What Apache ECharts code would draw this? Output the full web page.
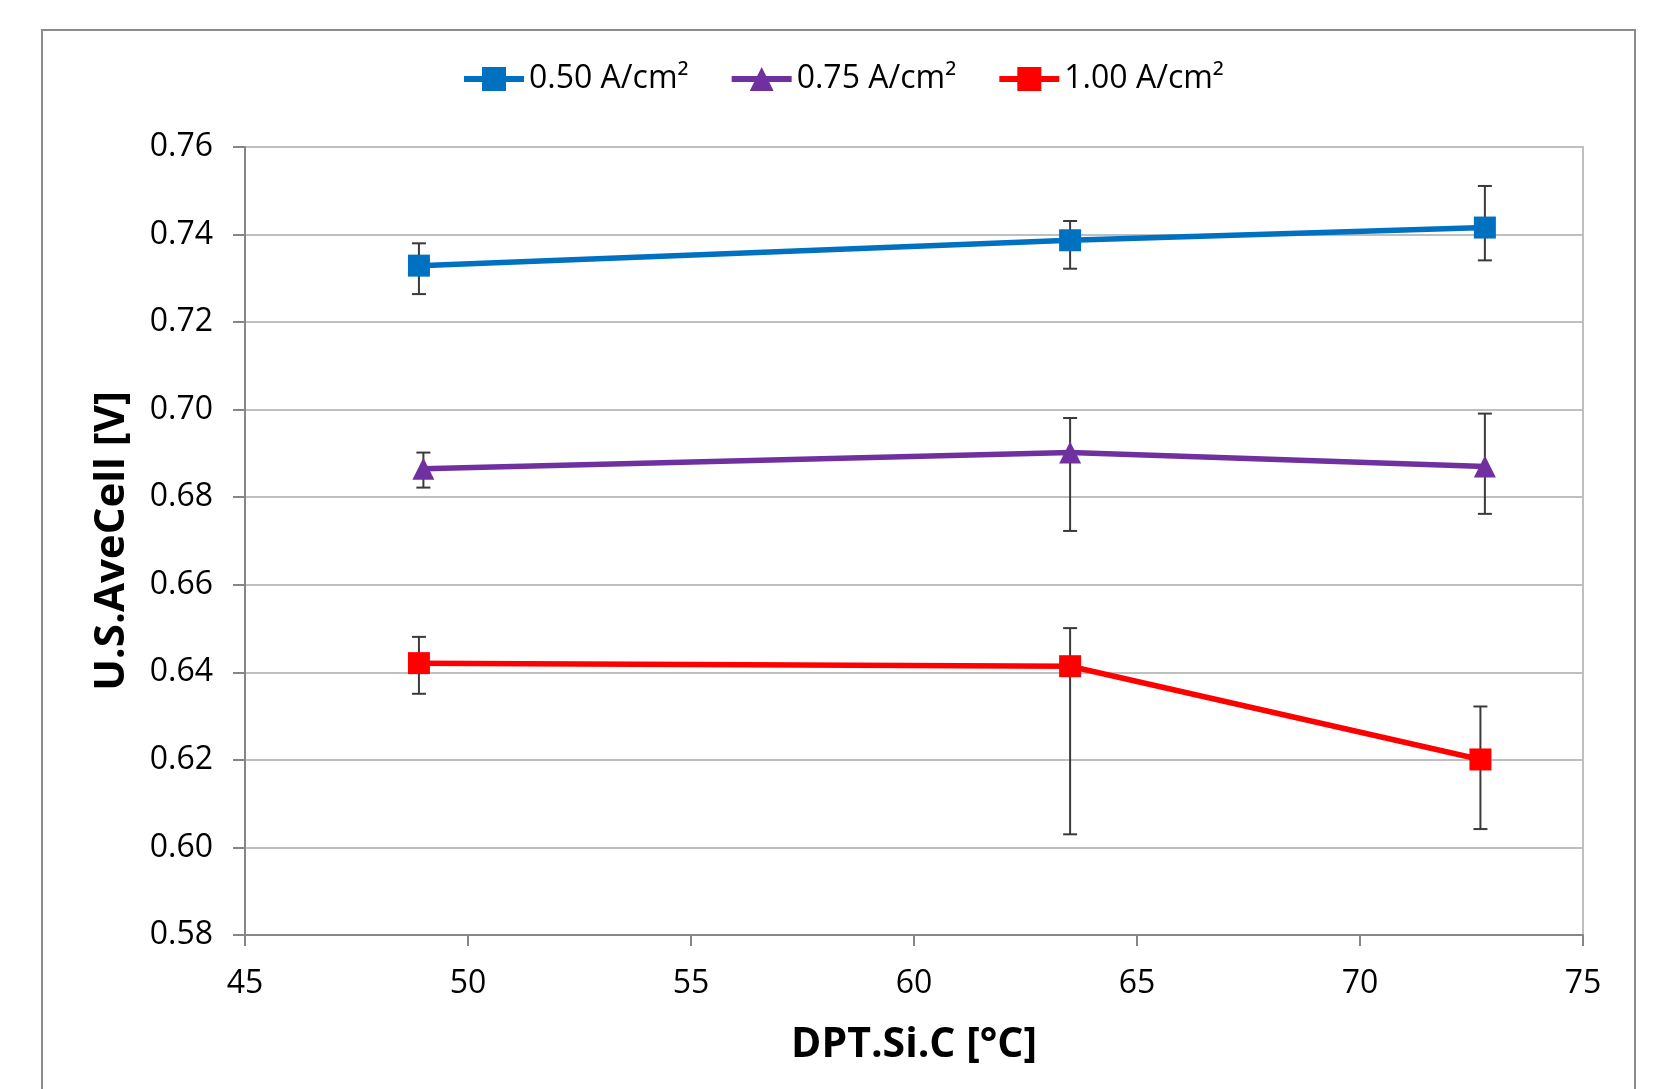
<!DOCTYPE html>
<html>
<head>
<meta charset="utf-8">
<script src="https://cdn.jsdelivr.net/npm/echarts@6/dist/echarts.min.js"></script>
<style>
html,body{margin:0;padding:0;background:#fff;}
#chart{width:1658px;height:1089px;}
</style>
</head>
<body>
<div id="chart"></div>
<script>
// ---- data ----
const seriesNames = ['0.50 A/cm²', '0.75 A/cm²', '1.00 A/cm²'];
const temps050 = [48.9, 63.5, 72.8];
const temps075 = [49.0, 63.5, 72.8];
const temps100 = [48.9, 63.5, 72.7];
const volt050 = [0.7329, 0.7387, 0.7416];
const volt075 = [0.6865, 0.6902, 0.6870];
const volt100 = [0.6421, 0.6414, 0.6201];
const errLow050 = [0.7264, 0.7322, 0.7341];
const errHigh050 = [0.7380, 0.7431, 0.7511];
const errLow075 = [0.6822, 0.6723, 0.6762];
const errHigh075 = [0.6902, 0.6981, 0.6991];
const errLow100 = [0.6351, 0.6030, 0.6042];
const errHigh100 = [0.6481, 0.6501, 0.6322];
const colors = ['#0070C0', '#7030A0', '#FF0000'];

const FONT = '"Open Sans", "Liberation Sans", sans-serif';

function pts(xs, ys) { return xs.map((x, i) => [x, ys[i]]); }
function errs(xs, lo, hi) { return xs.map((x, i) => [x, lo[i], hi[i]]); }

function errRender(params, api) {
  const x = api.value(0), lo = api.value(1), hi = api.value(2);
  const a = api.coord([x, hi]), b = api.coord([x, lo]);
  const w = 7;
  const style = { stroke: '#3a3a3a', lineWidth: 2 };
  return {
    type: 'group',
    children: [
      { type: 'line', shape: { x1: a[0], y1: a[1], x2: b[0], y2: b[1] }, style: style },
      { type: 'line', shape: { x1: a[0] - w, y1: a[1], x2: a[0] + w, y2: a[1] }, style: style },
      { type: 'line', shape: { x1: b[0] - w, y1: b[1], x2: b[0] + w, y2: b[1] }, style: style }
    ]
  };
}

function lineSeries(name, data, color, symbol) {
  return {
    name: name, type: 'line', data: data, z: 5,
    symbol: symbol, symbolSize: 22,
    lineStyle: { color: color, width: 5.5 },
    itemStyle: { color: color },
    emphasis: { disabled: true }
  };
}
function errSeries(data) {
  return {
    type: 'custom', data: data, z: 3, renderItem: errRender, silent: true
  };
}

const chart = echarts.init(document.getElementById('chart'), null, { renderer: 'canvas' });
chart.setOption({
  animation: false,
  backgroundColor: '#fff',
  graphic: [{
    type: 'rect', silent: true, z: -10,
    shape: { x: 42, y: 30, width: 1593, height: 1100 },
    style: { fill: 'none', stroke: '#8c8c8c', lineWidth: 2 }
  }],
  legend: {
    data: seriesNames,
    left: 456, top: 58,
    itemWidth: 60, itemHeight: 30, itemGap: 40,
    lineStyle: { width: 6 },
    textStyle: { fontFamily: FONT, fontSize: 32, color: '#000', padding: [0, 0, 0, 0] }
  },
  grid: {
    left: 245, right: 75, top: 147, bottom: 154,
    show: true, borderColor: '#bfbfbf', borderWidth: 2, backgroundColor: 'transparent'
  },
  xAxis: {
    type: 'value', min: 45, max: 75, interval: 5,
    name: 'DPT.Si.C [°C]', nameLocation: 'middle', nameGap: 90,
    nameTextStyle: { fontFamily: FONT, fontSize: 41, fontWeight: 'bold', color: '#000' },
    axisLine: { show: true, onZero: false, lineStyle: { color: '#868686', width: 2 } },
    axisTick: { show: true, inside: false, length: 11, lineStyle: { color: '#868686', width: 2 } },
    axisLabel: { fontFamily: FONT, fontSize: 32, color: '#000', margin: 33 },
    splitLine: { show: false }
  },
  yAxis: {
    type: 'value', min: 0.58, max: 0.76, interval: 0.02,
    name: 'U.S.AveCell [V]', nameLocation: 'middle', nameGap: 112,
    nameTextStyle: { fontFamily: FONT, fontSize: 42, fontWeight: 'bold', color: '#000' },
    axisLine: { show: true, lineStyle: { color: '#868686', width: 2 } },
    axisTick: { show: true, inside: false, length: 12, lineStyle: { color: '#868686', width: 2 } },
    axisLabel: { fontFamily: FONT, fontSize: 32, color: '#000', margin: 32,
      formatter: v => v.toFixed(2) },
    splitLine: { show: true, lineStyle: { color: '#bfbfbf', width: 2 } }
  },
  series: [
    errSeries(errs(temps050, errLow050, errHigh050)),
    errSeries(errs(temps075, errLow075, errHigh075)),
    errSeries(errs(temps100, errLow100, errHigh100)),
    lineSeries(seriesNames[0], pts(temps050, volt050), colors[0], 'rect'),
    lineSeries(seriesNames[1], pts(temps075, volt075), colors[1], 'triangle'),
    lineSeries(seriesNames[2], pts(temps100, volt100), colors[2], 'rect')
  ]
});
</script>
</body>
</html>
